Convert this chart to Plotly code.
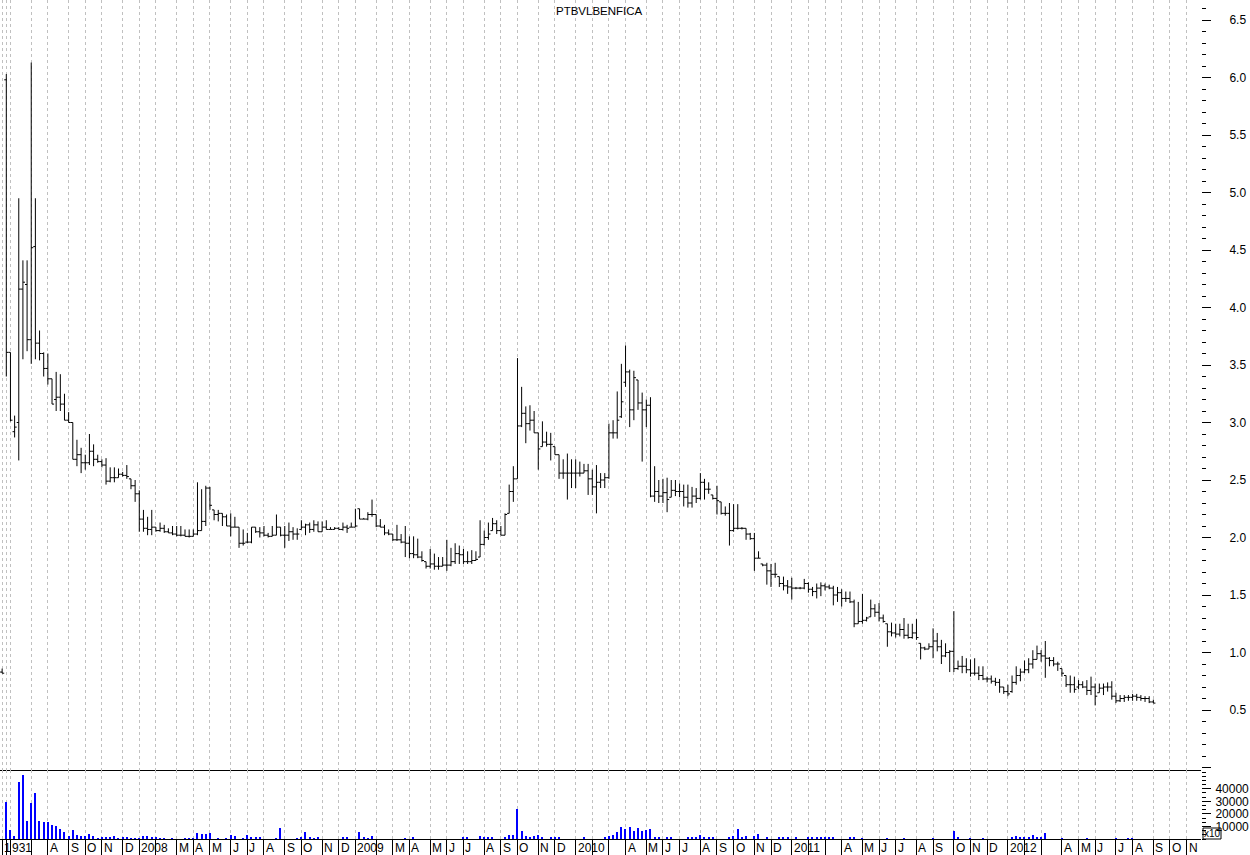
import plotly.graph_objects as go
import pandas as pd

TITLE = "PTBVLBENFICA"
FIRST_WEEK = "2007-05-18"          # week-ending Friday of the first (index -1) bar
N_AXIS_WEEKS = 289                 # weeks spanned by the time axis (index -1 .. 287)
EXCHANGE_CLOSED_FRIDAYS = ["2009-05-01", "2010-01-01"]

# weekly OHLC, index -1 .. 276
opens = [0.83,
    5.98, 3.61, 2.92, 3.00, 4.16, 4.20, 3.72, 4.53, 3.69, 3.60,
    3.47, 3.38, 3.20, 3.22, 3.16, 3.02, 3.00, 2.68, 2.72, 2.65,
    2.65, 2.75, 2.68, 2.66, 2.63, 2.49, 2.52, 2.52, 2.55, 2.54,
    2.51, 2.45, 2.38, 2.16, 2.08, 2.07, 2.09, 2.06, 2.08, 2.05,
    2.04, 2.03, 2.02, 2.02, 2.01, 2.01, 2.03, 2.06, 2.14, 2.43,
    2.24, 2.20, 2.21, 2.18, 2.10, 2.09, 2.09, 1.95, 1.96, 1.96,
    2.09, 2.05, 2.04, 2.02, 2.01, 2.02, 2.09, 2.02, 2.02, 2.05,
    2.03, 2.07, 2.09, 2.11, 2.07, 2.11, 2.05, 2.09, 2.07, 2.07,
    2.08, 2.07, 2.09, 2.09, 2.09, 2.25, 2.16, 2.16, 2.20, 2.20,
    2.10, 2.09, 2.04, 2.03, 1.98, 1.98, 1.96, 1.95, 1.86, 1.85,
    1.83, 1.79, 1.75, 1.77, 1.75, 1.75, 1.76, 1.76, 1.79, 1.86,
    1.85, 1.79, 1.79, 1.80, 1.83, 1.94, 2.00, 2.06, 2.12, 2.06,
    2.02, 2.21, 2.40, 2.51, 2.97, 3.08, 2.99, 3.02, 2.91, 2.79,
    2.83, 2.81, 2.79, 2.72, 2.56, 2.56, 2.56, 2.56, 2.56, 2.56,
    2.58, 2.51, 2.44, 2.48, 2.50, 2.52, 2.91, 2.91, 3.05, 3.35,
    3.44, 3.11, 3.37, 3.17, 3.11, 3.15, 2.36, 2.40, 2.36, 2.39,
    2.35, 2.41, 2.40, 2.40, 2.35, 2.30, 2.36, 2.34, 2.48, 2.42,
    2.37, 2.34, 2.31, 2.21, 2.21, 2.06, 2.08, 2.08, 2.08, 2.03,
    1.99, 1.82, 1.77, 1.76, 1.71, 1.68, 1.66, 1.60, 1.58, 1.57,
    1.56, 1.56, 1.56, 1.60, 1.55, 1.53, 1.56, 1.58, 1.57, 1.56,
    1.50, 1.52, 1.47, 1.47, 1.44, 1.25, 1.27, 1.28, 1.31, 1.38,
    1.35, 1.30, 1.25, 1.18, 1.17, 1.16, 1.20, 1.15, 1.13, 1.17,
    1.08, 1.04, 1.03, 1.05, 1.10, 1.05, 0.97, 1.00, 1.01, 0.86,
    0.88, 0.88, 0.85, 0.82, 0.82, 0.80, 0.77, 0.77, 0.75, 0.74,
    0.70, 0.66, 0.66, 0.74, 0.80, 0.83, 0.85, 0.90, 0.94, 0.99,
    0.97, 0.95, 0.93, 0.90, 0.86, 0.80, 0.72, 0.72, 0.70, 0.72,
    0.70, 0.67, 0.70, 0.65, 0.69, 0.70, 0.70, 0.62, 0.58, 0.60,
    0.61, 0.61, 0.62, 0.61, 0.60, 0.60, 0.57]

highs = [0.86,
    6.03, 3.61, 3.06, 4.95, 4.41, 4.41, 6.13, 4.95, 3.80, 3.61,
    3.60, 3.38, 3.44, 3.42, 3.25, 3.09, 3.00, 2.85, 2.78, 2.72,
    2.90, 2.81, 2.72, 2.68, 2.69, 2.61, 2.61, 2.60, 2.57, 2.63,
    2.51, 2.50, 2.41, 2.24, 2.18, 2.24, 2.09, 2.13, 2.11, 2.08,
    2.10, 2.10, 2.10, 2.07, 2.07, 2.07, 2.48, 2.42, 2.45, 2.44,
    2.24, 2.24, 2.21, 2.20, 2.21, 2.18, 2.09, 2.07, 2.04, 2.09,
    2.09, 2.09, 2.10, 2.04, 2.10, 2.20, 2.09, 2.10, 2.13, 2.09,
    2.08, 2.15, 2.12, 2.13, 2.15, 2.14, 2.14, 2.15, 2.09, 2.09,
    2.09, 2.13, 2.11, 2.13, 2.25, 2.25, 2.17, 2.22, 2.33, 2.20,
    2.16, 2.11, 2.07, 2.03, 2.11, 2.03, 2.10, 2.01, 2.01, 1.99,
    1.88, 1.79, 1.90, 1.86, 1.83, 1.83, 1.98, 1.91, 1.95, 1.93,
    1.90, 1.88, 1.89, 1.88, 2.15, 2.06, 2.13, 2.17, 2.15, 2.10,
    2.21, 2.46, 2.62, 3.56, 3.31, 3.14, 3.15, 3.10, 2.91, 3.01,
    2.92, 2.91, 2.79, 2.72, 2.68, 2.73, 2.68, 2.68, 2.66, 2.64,
    2.64, 2.59, 2.63, 2.56, 2.56, 2.99, 3.02, 3.27, 3.51, 3.67,
    3.46, 3.45, 3.37, 3.26, 3.20, 3.22, 2.62, 2.50, 2.51, 2.52,
    2.50, 2.50, 2.47, 2.46, 2.46, 2.44, 2.43, 2.56, 2.51, 2.48,
    2.37, 2.45, 2.31, 2.27, 2.30, 2.29, 2.29, 2.09, 2.08, 2.04,
    2.04, 1.88, 1.77, 1.78, 1.77, 1.78, 1.66, 1.66, 1.63, 1.65,
    1.57, 1.57, 1.64, 1.61, 1.57, 1.60, 1.61, 1.60, 1.59, 1.58,
    1.57, 1.55, 1.53, 1.53, 1.46, 1.44, 1.51, 1.31, 1.46, 1.42,
    1.43, 1.33, 1.25, 1.26, 1.25, 1.25, 1.30, 1.25, 1.25, 1.29,
    1.08, 1.05, 1.08, 1.21, 1.17, 1.11, 1.08, 1.02, 1.36, 0.93,
    0.97, 0.95, 0.94, 0.95, 0.88, 0.88, 0.79, 0.80, 0.78, 0.77,
    0.70, 0.72, 0.80, 0.88, 0.86, 0.93, 0.95, 1.02, 1.06, 1.02,
    1.10, 0.96, 0.96, 0.92, 0.86, 0.80, 0.80, 0.79, 0.76, 0.75,
    0.76, 0.79, 0.73, 0.73, 0.73, 0.74, 0.75, 0.65, 0.63, 0.63,
    0.63, 0.64, 0.64, 0.63, 0.62, 0.62, 0.59]

lows = [0.82,
    3.40, 3.01, 2.87, 2.67, 3.55, 3.62, 3.51, 3.55, 3.54, 3.40,
    3.33, 3.16, 3.10, 3.10, 3.02, 3.00, 2.68, 2.62, 2.56, 2.59,
    2.63, 2.62, 2.65, 2.61, 2.46, 2.48, 2.48, 2.52, 2.53, 2.51,
    2.42, 2.31, 2.05, 2.05, 2.02, 2.02, 2.05, 2.05, 2.04, 2.04,
    2.02, 2.01, 2.01, 2.01, 2.00, 2.01, 2.02, 2.06, 2.10, 2.24,
    2.15, 2.14, 2.10, 2.10, 2.01, 2.09, 1.91, 1.93, 1.95, 1.95,
    2.04, 2.00, 2.01, 2.00, 2.01, 2.02, 2.01, 1.91, 1.97, 1.98,
    1.98, 2.07, 2.02, 2.04, 2.05, 2.05, 2.05, 2.07, 2.07, 2.07,
    2.07, 2.06, 2.04, 2.09, 2.09, 2.16, 2.16, 2.15, 2.18, 2.09,
    2.09, 2.02, 2.02, 1.97, 1.97, 1.95, 1.83, 1.82, 1.82, 1.82,
    1.79, 1.73, 1.73, 1.72, 1.72, 1.75, 1.71, 1.75, 1.77, 1.77,
    1.77, 1.77, 1.77, 1.80, 1.83, 1.93, 1.98, 2.06, 2.03, 2.02,
    2.02, 2.21, 2.31, 2.51, 2.96, 2.82, 2.93, 2.91, 2.59, 2.79,
    2.79, 2.67, 2.72, 2.51, 2.51, 2.33, 2.43, 2.43, 2.53, 2.56,
    2.37, 2.37, 2.21, 2.43, 2.43, 2.51, 2.86, 2.86, 3.04, 3.31,
    2.96, 3.02, 3.11, 2.66, 2.96, 2.35, 2.31, 2.30, 2.30, 2.22,
    2.35, 2.36, 2.35, 2.27, 2.26, 2.26, 2.30, 2.33, 2.33, 2.38,
    2.33, 2.20, 2.20, 2.19, 1.93, 2.05, 2.07, 2.07, 1.98, 1.98,
    1.71, 1.82, 1.75, 1.59, 1.57, 1.65, 1.57, 1.54, 1.51, 1.46,
    1.55, 1.55, 1.55, 1.52, 1.49, 1.47, 1.49, 1.54, 1.55, 1.41,
    1.44, 1.40, 1.44, 1.43, 1.22, 1.25, 1.25, 1.27, 1.31, 1.31,
    1.27, 1.26, 1.05, 1.14, 1.13, 1.14, 1.12, 1.12, 1.12, 1.11,
    0.94, 1.02, 1.03, 0.95, 1.01, 0.90, 0.96, 0.83, 0.83, 0.85,
    0.82, 0.82, 0.79, 0.80, 0.76, 0.76, 0.74, 0.73, 0.71, 0.65,
    0.64, 0.62, 0.65, 0.72, 0.75, 0.82, 0.82, 0.86, 0.94, 0.92,
    0.78, 0.88, 0.88, 0.84, 0.79, 0.70, 0.65, 0.65, 0.68, 0.69,
    0.63, 0.63, 0.54, 0.65, 0.63, 0.66, 0.59, 0.56, 0.57, 0.57,
    0.58, 0.58, 0.58, 0.58, 0.57, 0.56, 0.56]

closes = [0.82,
    3.61, 3.02, 2.96, 4.16, 4.22, 3.72, 4.52, 3.69, 3.60, 3.47,
    3.38, 3.16, 3.22, 3.16, 3.02, 3.00, 2.68, 2.72, 2.65, 2.65,
    2.75, 2.68, 2.66, 2.63, 2.49, 2.52, 2.52, 2.55, 2.54, 2.53,
    2.45, 2.38, 2.16, 2.08, 2.07, 2.09, 2.06, 2.08, 2.05, 2.04,
    2.03, 2.02, 2.02, 2.01, 2.01, 2.03, 2.06, 2.14, 2.43, 2.28,
    2.20, 2.21, 2.18, 2.10, 2.09, 2.09, 1.95, 1.95, 1.96, 2.09,
    2.05, 2.04, 2.02, 2.01, 2.02, 2.09, 2.02, 2.02, 2.05, 2.03,
    2.03, 2.09, 2.11, 2.07, 2.11, 2.05, 2.09, 2.07, 2.07, 2.08,
    2.07, 2.09, 2.08, 2.09, 2.10, 2.16, 2.16, 2.20, 2.20, 2.10,
    2.09, 2.04, 2.03, 1.98, 1.98, 1.96, 1.95, 1.86, 1.85, 1.83,
    1.80, 1.75, 1.77, 1.75, 1.75, 1.76, 1.76, 1.79, 1.86, 1.85,
    1.79, 1.79, 1.80, 1.81, 1.94, 2.00, 2.03, 2.12, 2.06, 2.02,
    2.20, 2.40, 2.51, 2.97, 3.08, 2.99, 3.02, 2.91, 2.77, 2.83,
    2.81, 2.81, 2.72, 2.56, 2.56, 2.56, 2.56, 2.56, 2.56, 2.58,
    2.51, 2.44, 2.48, 2.50, 2.52, 2.91, 2.91, 3.02, 3.18, 3.44,
    3.11, 3.39, 3.17, 3.11, 3.15, 2.36, 2.40, 2.36, 2.39, 2.33,
    2.41, 2.40, 2.40, 2.35, 2.30, 2.36, 2.34, 2.48, 2.42, 2.42,
    2.34, 2.32, 2.21, 2.21, 2.06, 2.08, 2.08, 2.08, 2.03, 1.99,
    1.82, 1.82, 1.76, 1.71, 1.68, 1.68, 1.60, 1.58, 1.57, 1.56,
    1.56, 1.56, 1.60, 1.55, 1.53, 1.56, 1.58, 1.57, 1.56, 1.50,
    1.52, 1.47, 1.47, 1.44, 1.25, 1.27, 1.28, 1.30, 1.38, 1.35,
    1.30, 1.27, 1.18, 1.17, 1.16, 1.20, 1.15, 1.13, 1.17, 1.13,
    1.04, 1.03, 1.05, 1.10, 1.05, 0.97, 1.00, 1.01, 0.86, 0.88,
    0.88, 0.85, 0.82, 0.82, 0.80, 0.77, 0.77, 0.75, 0.74, 0.70,
    0.66, 0.64, 0.74, 0.80, 0.83, 0.85, 0.90, 0.94, 0.99, 0.97,
    0.95, 0.93, 0.90, 0.90, 0.82, 0.72, 0.72, 0.68, 0.72, 0.70,
    0.67, 0.70, 0.62, 0.69, 0.70, 0.70, 0.62, 0.58, 0.60, 0.61,
    0.61, 0.62, 0.61, 0.60, 0.60, 0.57, 0.56]

# weekly volume in units of 10 shares (axis is marked "x10")
volume = [0,
    29200, 7400, 2100, 45200, 51300, 14600, 28400, 36900, 14600, 13300,
    13800, 11400, 10100, 8200, 5800, 2100, 6900, 3500, 2700, 2100,
    4200, 2700, 500, 1600, 1100, 1600, 2700, 300, 1300, 1900,
    800, 300, 400, 2700, 2700, 1100, 1900, 800, 300, 0,
    500, 0, 0, 300, 600, 600, 5000, 4300, 4300, 4500,
    0, 600, 0, 600, 3500, 2700, 0, 800, 3500, 1100,
    1600, 1300, 0, 0, 0, 800, 9000, 0, 0, 0,
    800, 1900, 5600, 1600, 800, 1300, 0, 0, 0, 0,
    0, 1300, 1600, 0, 0, 5600, 1300, 600, 2700, 0,
    0, 0, 0, 0, 0, 0, 600, 0, 1300, 0,
    0, 0, 0, 0, 0, 0, 0, 0, 0, 0,
    1600, 1100, 0, 0, 2700, 1600, 1100, 1900, 0, 0,
    1100, 3500, 3500, 24200, 6600, 2700, 1900, 2100, 3500, 1900,
    0, 1100, 1100, 1100, 0, 0, 0, 0, 0, 1100,
    0, 0, 0, 0, 1100, 2700, 3500, 5300, 9800, 8200,
    9800, 6600, 9000, 6600, 7400, 8200, 1900, 1900, 0, 1900,
    1100, 0, 0, 0, 1100, 1900, 1100, 3500, 1900, 1100,
    1100, 0, 0, 0, 1100, 2700, 8200, 1900, 2700, 0,
    2700, 4300, 0, 1100, 0, 0, 1100, 1100, 1100, 0,
    1100, 0, 0, 1100, 1100, 1900, 1900, 1900, 1100, 1100,
    0, 0, 0, 1100, 1900, 0, 600, 0, 0, 0,
    0, 0, 600, 0, 0, 0, 600, 0, 0, 0,
    0, 0, 0, 600, 0, 0, 0, 0, 6600, 1900,
    0, 0, 600, 0, 0, 600, 0, 0, 0, 0,
    0, 0, 1900, 2700, 1900, 1900, 1900, 3500, 1900, 1900,
    5000, 0, 0, 0, 600, 0, 0, 0, 0, 0,
    600, 0, 0, 0, 0, 0, 0, 600, 0, 0,
    600, 600, 0, 0, 0, 0, 0]

# labels under each month-start gridline (in order of the month starts)
month_labels = ["1", "931", "", "A", "S", "O", "N", "D",
    "2008", "", "M", "A", "M", "J", "J", "A", "S", "O", "N", "D",
    "2009", "", "M", "A", "M", "J", "J", "A", "S", "O", "N", "D",
    "2010", "", "", "A", "M", "J", "J", "A", "S", "O", "N", "D",
    "2011", "", "", "A", "M", "J", "J", "A", "S", "O", "N", "D",
    "2012", "", "", "A", "M", "J", "J", "A", "S", "O", "N"]
extra_grid_weeks = [0]

price_tick_values = [0.0, 0.5, 1.0, 1.5, 2.0, 2.5, 3.0, 3.5, 4.0, 4.5, 5.0, 5.5, 6.0, 6.5]
volume_tick_values = [10000, 20000, 30000, 40000]

n = len(closes)
assert len(opens) == len(highs) == len(lows) == len(volume) == n, (len(opens), len(highs), len(lows), len(volume), n)
week_idx = list(range(-1, n - 1))

# --- time axis: week-ending dates -> index of first bar of each month
dates = list(pd.date_range(FIRST_WEEK, periods=N_AXIS_WEEKS, freq="7D"))
closed = set(pd.to_datetime(EXCHANGE_CLOSED_FRIDAYS))
dates = [d - pd.Timedelta(days=1) if d in closed else d for d in dates]
month_starts = [k - 1 for k in range(len(dates)) if k == 0 or dates[k].month != dates[k - 1].month]
assert len(month_starts) == len(month_labels), (len(month_starts), len(month_labels))
grid_ticks = sorted(month_starts + extra_grid_weeks)

# --- pixel geometry of the frame
W, H = 1250, 855
PLOT_RIGHT = 1201
PLOT_BOTTOM = 839
SPLIT = 770
BAR_PX = 4.156
FIRST_BAR_PX = 6.3
x_lo = -FIRST_BAR_PX / BAR_PX
x_hi = x_lo + PLOT_RIGHT / BAR_PX
PRICE_PX = 115.0
ZERO_PX = 767.5
p_hi = ZERO_PX / PRICE_PX
p_lo = (ZERO_PX - SPLIT) / PRICE_PX
VOL_PX = 12.55 / 10000
v_hi = (PLOT_BOTTOM - SPLIT) / VOL_PX
split_frac = (PLOT_BOTTOM - SPLIT) / PLOT_BOTTOM

FONT = "Liberation Sans, Arial, sans-serif"
GRID = "#c0c0c0"

fig = go.Figure()
fig.add_trace(go.Ohlc(
    x=week_idx, open=opens, high=highs, low=lows, close=closes,
    increasing=dict(line=dict(color="black", width=1)),
    decreasing=dict(line=dict(color="black", width=1)),
    tickwidth=0.5, hoverinfo="skip", xaxis="x", yaxis="y",
))
fig.add_trace(go.Bar(
    x=week_idx, y=volume, width=0.3,
    marker=dict(color="#0000ff", line=dict(width=0)),
    hoverinfo="skip", xaxis="x2", yaxis="y2",
))

common_x = dict(
    range=[x_lo, x_hi], tickmode="array", tickvals=grid_ticks,
    showgrid=True, gridcolor=GRID, gridwidth=1, griddash="3px,3px",
    zeroline=False, showticklabels=False,
    showline=True, linecolor="black", linewidth=1,
    rangeslider=dict(visible=False), fixedrange=True,
)

fig.update_layout(
    width=W, height=H,
    margin=dict(l=0, r=W - PLOT_RIGHT, t=0, b=H - PLOT_BOTTOM),
    paper_bgcolor="white", plot_bgcolor="white",
    showlegend=False,
    font=dict(family=FONT, size=12, color="black"),
    bargap=0,
    xaxis=dict(domain=[0, 1], anchor="y", ticks="", **common_x),
    xaxis2=dict(domain=[0, 1], anchor="y2", matches="x",
                ticks="outside", ticklen=16, tickwidth=1, tickcolor="black", **common_x),
    yaxis=dict(
        domain=[split_frac, 1], anchor="x", side="right", range=[p_lo, p_hi],
        tickmode="array", tickvals=price_tick_values,
        ticktext=["" if v == 0 else f"{v:.1f}" for v in price_tick_values],
        ticks="outside", ticklen=9, tickwidth=1, tickcolor="black",
        minor=dict(ticks="outside", ticklen=4, tickwidth=1, tickcolor="black",
                   tickmode="linear", tick0=0, dtick=0.1, showgrid=False),
        showgrid=False, zeroline=False, showline=False,
        ticklabelstandoff=16, tickfont=dict(family=FONT, size=12, color="black"),
        fixedrange=True,
    ),
    yaxis2=dict(
        domain=[0, split_frac], anchor="x2", side="right", range=[0, v_hi],
        tickmode="array", tickvals=volume_tick_values,
        ticktext=[str(v) for v in volume_tick_values],
        ticks="outside", ticklen=9, tickwidth=1, tickcolor="black",
        minor=dict(ticks="outside", ticklen=4, tickwidth=1, tickcolor="black",
                   tickmode="linear", tick0=0, dtick=10000 / 3, showgrid=False),
        showgrid=False, zeroline=False, showline=False,
        ticklabelstandoff=2, tickfont=dict(family=FONT, size=12, color="black"),
        fixedrange=True,
    ),
)

annotations = [dict(
    text=TITLE, xref="paper", yref="paper",
    x=599 / PLOT_RIGHT, y=(PLOT_BOTTOM - 11) / PLOT_BOTTOM,
    xanchor="center", yanchor="middle", showarrow=False,
    font=dict(family=FONT, size=11.5, color="black"),
)]
for wk, lab in zip(month_starts, month_labels):
    if lab:
        annotations.append(dict(
            text=lab, x=wk, xref="x2", y=(PLOT_BOTTOM - 847.5) / PLOT_BOTTOM, yref="paper",
            xanchor="left", yanchor="middle", xshift=0, showarrow=False,
            font=dict(family=FONT, size=12, color="black"),
        ))
annotations.append(dict(
    text="x10", xref="paper", yref="paper",
    x=1212 / PLOT_RIGHT, y=(PLOT_BOTTOM - 833.5) / PLOT_BOTTOM,
    xanchor="center", yanchor="middle", showarrow=False,
    font=dict(family=FONT, size=10, color="black"),
))
fig.update_layout(annotations=annotations)
fig.add_shape(type="rect", xref="paper", yref="paper",
              x0=1203 / PLOT_RIGHT, x1=1221 / PLOT_RIGHT,
              y0=0, y1=(PLOT_BOTTOM - 828) / PLOT_BOTTOM,
              line=dict(color="black", width=1), fillcolor="rgba(0,0,0,0)")

# remove the browser's default page margin so the figure sits at the window's top-left
fig.write_html("out.html",
               config={"displayModeBar": False},
               post_script="document.body.style.margin='0';document.body.style.overflow='hidden';")
